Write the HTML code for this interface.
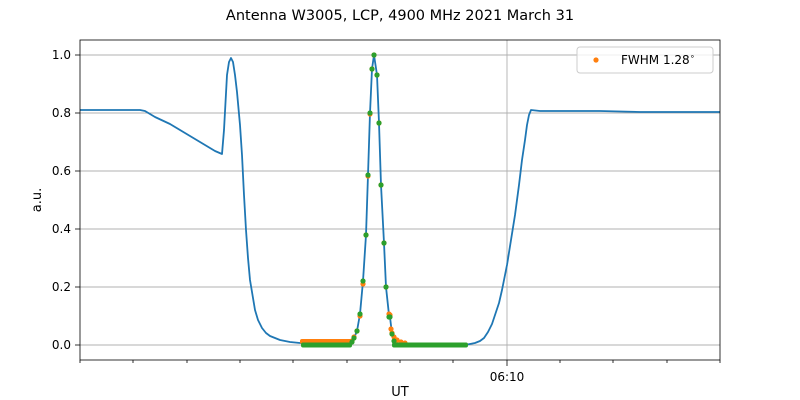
<!DOCTYPE html>
<html><head><style>body{margin:0;background:#fff}svg{display:block;font-family:"DejaVu Sans","Liberation Sans",sans-serif}</style></head><body>
<svg width="800" height="400" viewBox="0 0 800 400">
<text x="400" y="20" font-size="14.5" text-anchor="middle">Antenna W3005, LCP, 4900 MHz 2021 March 31</text>
<g stroke="#b0b0b0" stroke-width="0.9">
<line x1="80" x2="720" y1="345" y2="345"/><line x1="80" x2="720" y1="287" y2="287"/><line x1="80" x2="720" y1="229" y2="229"/><line x1="80" x2="720" y1="171" y2="171"/><line x1="80" x2="720" y1="113" y2="113"/><line x1="80" x2="720" y1="55" y2="55"/><line x1="507" x2="507" y1="40" y2="360"/>
</g>
<g font-size="12" text-anchor="end">
<text x="71" y="349">0.0</text><text x="71" y="291">0.2</text><text x="71" y="233">0.4</text><text x="71" y="175">0.6</text><text x="71" y="117">0.8</text><text x="71" y="59">1.0</text>
</g>
<g stroke="#000" stroke-width="0.8">
<line x1="75" x2="80" y1="345" y2="345"/><line x1="75" x2="80" y1="287" y2="287"/><line x1="75" x2="80" y1="229" y2="229"/><line x1="75" x2="80" y1="171" y2="171"/><line x1="75" x2="80" y1="113" y2="113"/><line x1="75" x2="80" y1="55" y2="55"/>
<line x1="507" x2="507" y1="360" y2="366"/>
<path d="M80 360v3M133 360v3M187 360v3M240 360v3M293 360v3M347 360v3M400 360v3M453 360v3M560 360v3M613 360v3M667 360v3M720 360v3"/>
</g>
<text x="507" y="381" font-size="12" text-anchor="middle">06:10</text>
<text x="400" y="400" font-size="13" text-anchor="middle" dy="-4">UT</text>
<text x="41" y="200" font-size="13" text-anchor="middle" transform="rotate(-90 41 200)">a.u.</text>
<polyline fill="none" stroke="#1f77b4" stroke-width="1.8" stroke-linejoin="round" points="80,110 100,110 120,110 140,110 145,111 155,117 170,124 185,133 200,142 215,151 222,154 224,130 227,75 229,62 231,58 233,62 235,75 237,92 240,125 242,155 244,195 246,230 248,258 250,280 253,298 255,310 258,320 262,328 266,333 270,336 275,338 280,340 290,342 300,343 340,343 350,343 352,342 354,338 357,331 360,314 363,281 366,235 368,175 370,113 372,69 374,55 377,75 379,123 381,185 384,243 386,287 389,315 390,317 392,334 394,342 400,345 465,345 470,344 475,343 480,341 484,338 488,332 492,324 495,315 499,303 502,290 507,265 511,240 515,215 519,185 522,160 525,140 527,125 529,115 531,110 540,111 560,111 600,111 640,112 680,112 720,112"/>
<g fill="#ff7f0e">
<rect x="300" y="339" width="52" height="5" rx="2"/>
<circle cx="352" cy="341" r="2.6"/><circle cx="354" cy="337" r="2.6"/><circle cx="357" cy="331" r="2.6"/><circle cx="360" cy="316" r="2.6"/><circle cx="363" cy="284" r="2.6"/><circle cx="366" cy="235" r="2.6"/><circle cx="368" cy="176" r="2.6"/><circle cx="370" cy="114" r="2.6"/><circle cx="372" cy="69" r="2.6"/><circle cx="374" cy="55" r="2.6"/><circle cx="377" cy="75" r="2.6"/><circle cx="379" cy="123" r="2.6"/><circle cx="381" cy="185" r="2.6"/><circle cx="384" cy="243" r="2.6"/><circle cx="386" cy="287" r="2.6"/><circle cx="389" cy="314" r="2.6"/><circle cx="390" cy="315" r="2.6"/><circle cx="391" cy="329" r="2.6"/><circle cx="392" cy="333" r="2.6"/><circle cx="394" cy="337" r="2.6"/><circle cx="397" cy="340" r="2.6"/><circle cx="401" cy="342" r="2.6"/><circle cx="405" cy="343" r="2.6"/>
</g>
<g fill="#2ca02c">
<rect x="301" y="342.5" width="51" height="5" rx="2"/>
<rect x="392" y="342.5" width="76" height="5" rx="2"/>
<circle cx="352" cy="342" r="2.6"/><circle cx="354" cy="338" r="2.6"/><circle cx="357" cy="331" r="2.6"/><circle cx="360" cy="314" r="2.6"/><circle cx="363" cy="281" r="2.6"/><circle cx="366" cy="235" r="2.6"/><circle cx="368" cy="175" r="2.6"/><circle cx="370" cy="113" r="2.6"/><circle cx="372" cy="69" r="2.6"/><circle cx="374" cy="55" r="2.6"/><circle cx="377" cy="75" r="2.6"/><circle cx="379" cy="123" r="2.6"/><circle cx="381" cy="185" r="2.6"/><circle cx="384" cy="243" r="2.6"/><circle cx="386" cy="287" r="2.6"/><circle cx="389" cy="317" r="2.6"/><circle cx="390" cy="317" r="2.6"/><circle cx="392" cy="334" r="2.6"/><circle cx="394" cy="341" r="2.6"/>
</g>
<rect x="80" y="40" width="640" height="320" fill="none" stroke="#000" stroke-width="0.8"/>
<rect x="577" y="47" width="136" height="26" rx="3" fill="#fff" fill-opacity="0.8" stroke="#ccc"/>
<circle cx="596" cy="60" r="2.6" fill="#ff7f0e"/>
<text x="621" y="64" font-size="12">FWHM 1.28<tspan font-size="8" dy="-5">∘</tspan></text>
</svg>
</body></html>
